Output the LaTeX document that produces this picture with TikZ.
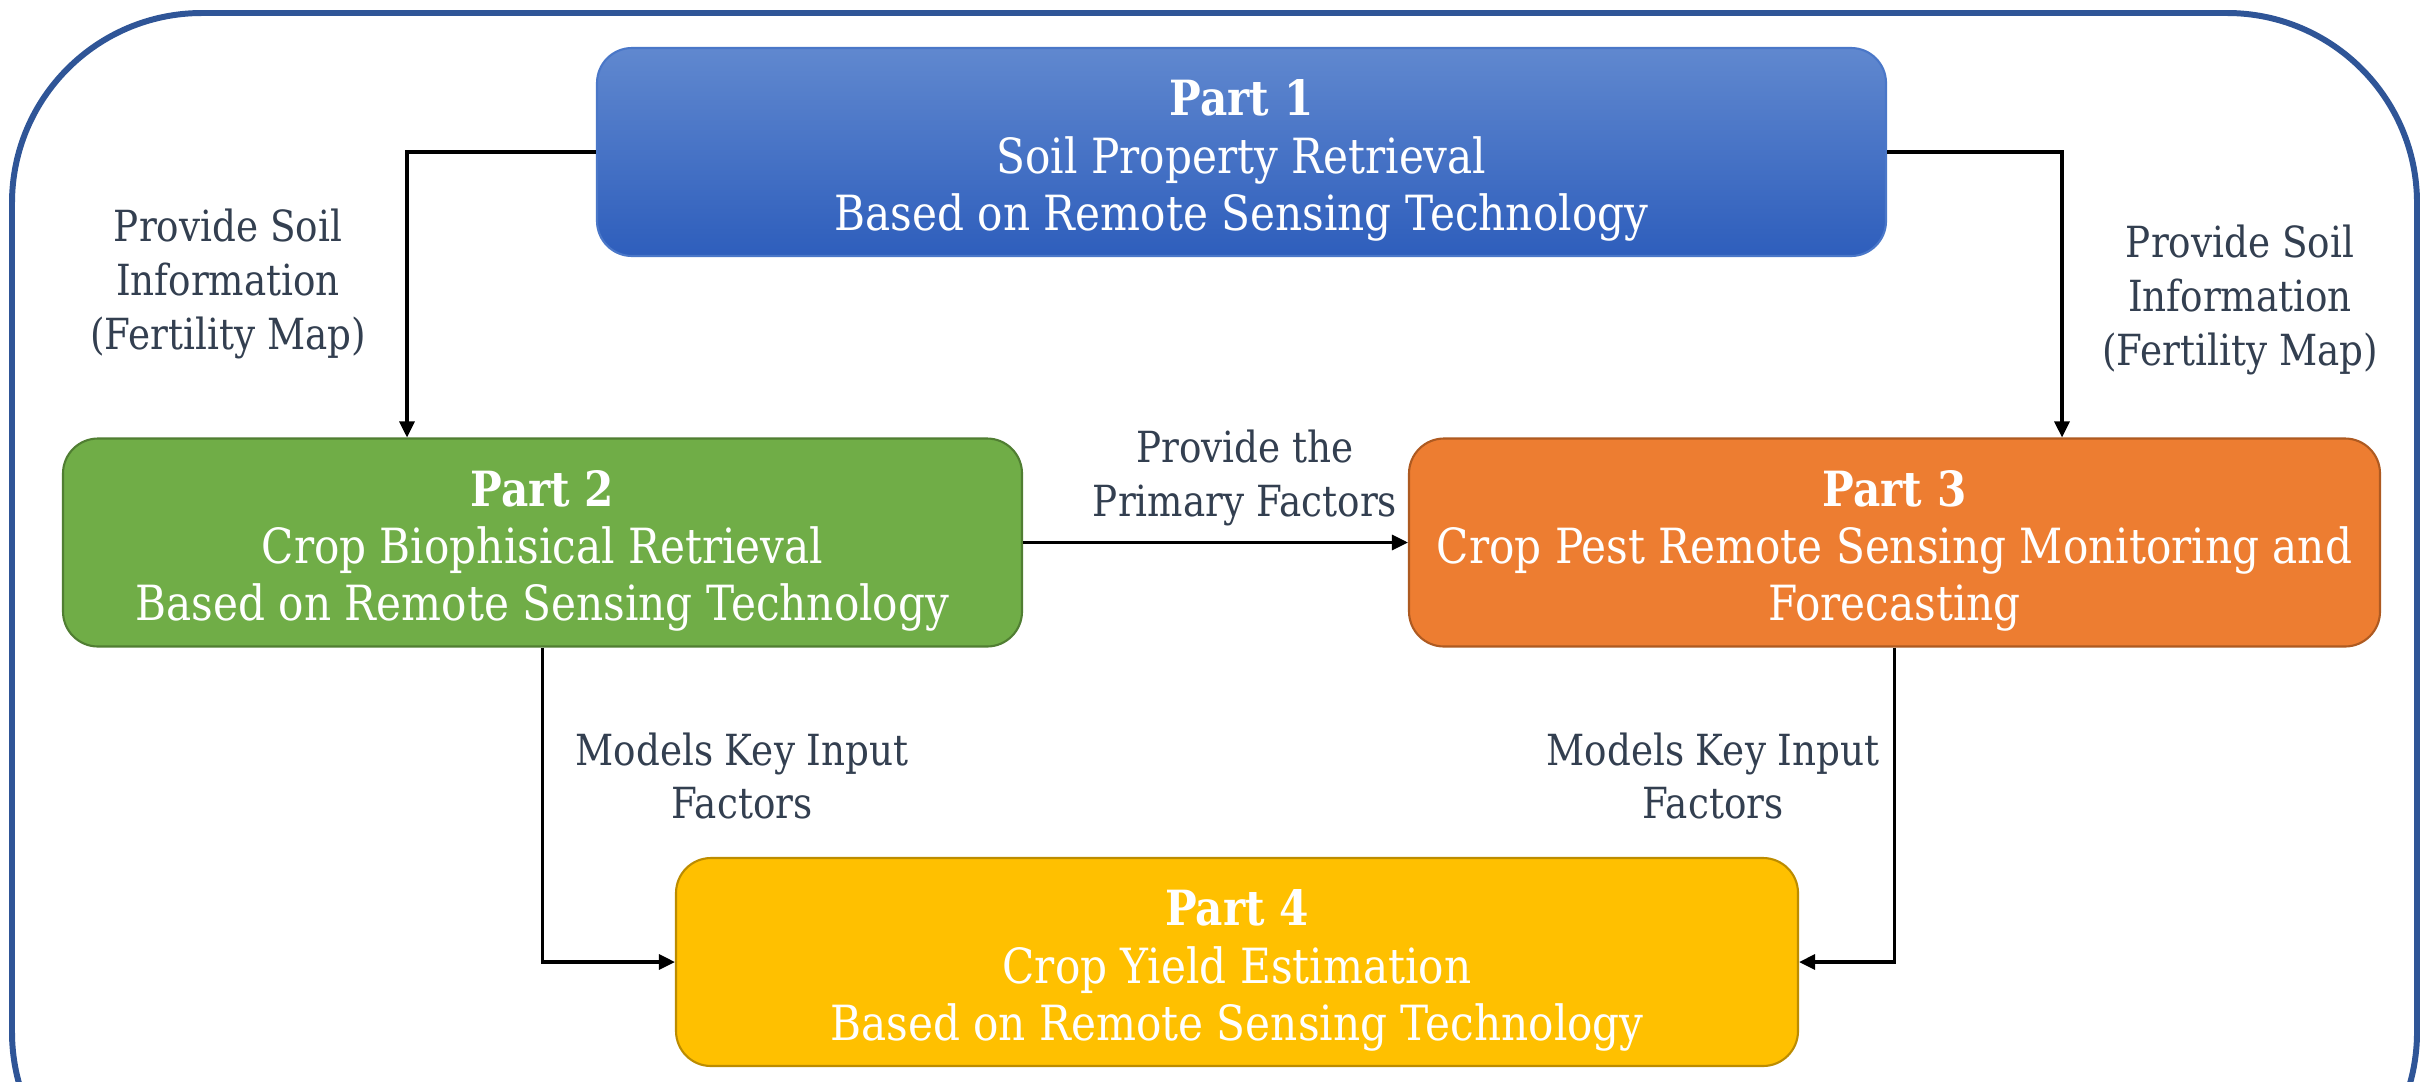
\documentclass[tikz,border=0pt]{standalone}
\usepackage{fontspec}
\setmainfont{DejaVu Serif}[FakeStretch=0.87]
\usetikzlibrary{arrows.meta,positioning,calc}

\definecolor{framecol}{HTML}{2F5597}
\definecolor{bluetop}{HTML}{6088CF}
\definecolor{bluebot}{HTML}{2E5EBC}
\definecolor{blueline}{HTML}{4A77C8}
\definecolor{greenfill}{HTML}{70AD47}
\definecolor{greenline}{HTML}{507E32}
\definecolor{orangefill}{HTML}{ED7D31}
\definecolor{orangeline}{HTML}{AE5A21}
\definecolor{goldfill}{HTML}{FFC000}
\definecolor{goldline}{HTML}{BC8C00}
\definecolor{labelcol}{HTML}{333F50}

\newcommand{\parthead}[1]{\rule{0pt}{5.3mm}\textbf{Part #1}}

\begin{document}
\begin{tikzpicture}[
		x=0.1mm, y=-0.1mm,
		> = {Triangle[length=1.6mm,width=1.5mm]},
		part/.style={draw,rounded corners=3.5mm,line width=0.6pt,text=white,align=center,
			minimum height=20.8mm,inner sep=0pt,font=\fontsize{13.8}{16.3}\selectfont},
		flow/.style={->,line width=0.9pt,black},
		note/.style={align=center,text=labelcol,inner sep=0pt,font=\fontsize{12.2}{15.3}\selectfont}
		]
		\clip (0,0) rectangle (2420,1081);
		\draw[framecol,line width=1.7pt,rounded corners=19mm] (12,13) rectangle (2417,1222);
		
		% the four parts
		\node[part,draw=blueline,top color=bluetop,bottom color=bluebot,minimum width=128.9mm] at (1241.5,152) (p1)
			{\parthead{1}\\Soil Property Retrieval\\Based on Remote Sensing Technology};
		\node[part,draw=greenline,fill=greenfill,minimum width=95.9mm] at (542.5,542.5) (p2)
			{\parthead{2}\\Crop Biophisical Retrieval\\Based on Remote Sensing Technology};
		\node[part,draw=orangeline,fill=orangefill,minimum width=97.1mm] at (1894.5,542.5) (p3)
			{\parthead{3}\\Crop Pest Remote Sensing Monitoring and\\Forecasting};
		\node[part,draw=goldline,fill=goldfill,minimum width=112.2mm] at (1237,962) (p4)
			{\parthead{4}\\Crop Yield Estimation\\Based on Remote Sensing Technology};
		
		% connections
		\draw[flow] (p1.west) -| ([xshift=-13.55mm]p2.north);
		\draw[flow] (p1.east) -| ([xshift=16.75mm]p3.north);
		\draw[flow] (p2.east) -- (p3.west);
		\draw[flow] (p2.south) |- (p4.west);
		\draw[flow] (p3.south) |- (p4.east);
		
		% labels
		\node[note] at (228,284) (soilL) {Provide Soil\\Information\\(Fertility Map)};
		\node[note] at (2240,300) (soilR) {Provide Soil\\Information\\(Fertility Map)};
		\node[note] at (1245,478) (primary) {Provide the\\Primary Factors};
		\node[note] at (742,776) (keyL) {Models Key Input\\Factors};
		\node[note] at (1713,776) (keyR) {Models Key Input\\Factors};
	\end{tikzpicture}
\end{document}
